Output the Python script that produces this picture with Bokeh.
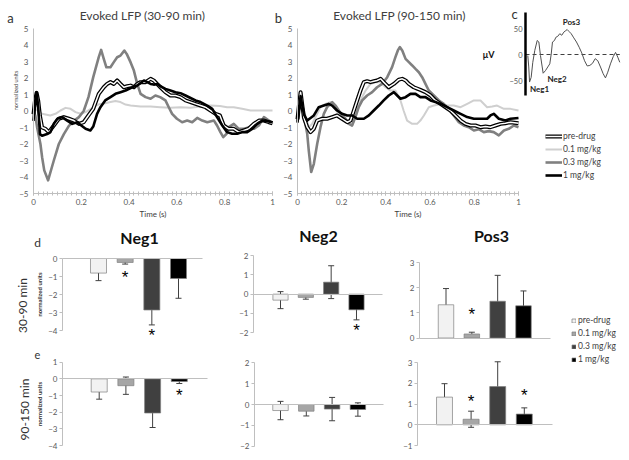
from bokeh.plotting import figure
from bokeh.layouts import row, column
from bokeh.models import (Range1d, FixedTicker, LinearAxis, Label, Legend, LegendItem,
                          ColumnDataSource, Whisker, TeeHead, NumeralTickFormatter)
from bokeh.embed import file_html
from bokeh.resources import INLINE
from bokeh.core.properties import value

FONT = "Lato"
TICK_C = "#595959"
AXIS_C = "#bfbfbf"
TXT_C = "#404040"

doses = ["pre-drug", "0.1 mg/kg", "0.3 mg/kg", "1 mg/kg"]

# ---------------- evoked LFP traces, (time s, normalized units) ----------------
a_pre = [(0, -0.2), (0.006, 0.6), (0.013, 1.1), (0.02, 0.6), (0.027, -0.3), (0.036, -1.0), (0.05, -1.08),
         (0.064, -1.28), (0.085, -0.88), (0.106, -0.47), (0.127, -0.37), (0.148, -0.47), (0.169, -0.58),
         (0.19, -0.78), (0.21, -0.68), (0.23, -0.27), (0.25, 0.13), (0.273, 1.04), (0.294, 1.44), (0.308, 1.64),
         (0.322, 1.75), (0.336, 1.64), (0.35, 1.85), (0.364, 1.64), (0.378, 1.44), (0.392, 1.5), (0.406, 1.54),
         (0.42, 1.44), (0.434, 1.64), (0.448, 1.75), (0.469, 1.75), (0.49, 1.95), (0.503, 1.85), (0.517, 1.64),
         (0.531, 1.44), (0.552, 1.14), (0.573, 0.94), (0.594, 0.94), (0.615, 0.84), (0.636, 0.64), (0.657, 0.54),
         (0.678, 0.43), (0.699, 0.33), (0.72, 0.23), (0.741, 0.03), (0.762, -0.17), (0.78, -0.27), (0.796, -0.88),
         (0.817, -1.08), (0.838, -1.08), (0.859, -1.28), (0.88, -1.18), (0.9, -1.08), (0.922, -0.78),
         (0.943, -0.58), (0.964, -0.58), (0.985, -0.68), (1.0, -0.74)]
a_01 = [(0, 0.2), (0.036, -0.17), (0.07, -0.27), (0.092, -0.17), (0.113, 0.03), (0.134, 0.19), (0.155, 0.13),
        (0.176, -0.07), (0.197, -0.17), (0.218, -0.07), (0.24, 0.13), (0.26, 0.33), (0.28, 0.43), (0.3, 0.47),
        (0.322, 0.54), (0.343, 0.6), (0.364, 0.54), (0.385, 0.39), (0.406, 0.33), (0.448, 0.27), (0.49, 0.27),
        (0.53, 0.23), (0.573, 0.2), (0.615, 0.23), (0.657, 0.2), (0.699, 0.27), (0.741, 0.33), (0.78, 0.3),
        (0.81, 0.23), (0.838, 0.23), (0.873, 0.13), (0.908, 0.03), (0.95, 0.03), (1.0, 0.03)]
a_03 = [(0, 0.0), (0.008, -0.3), (0.015, -0.98), (0.029, -2.0), (0.036, -2.8), (0.045, -3.6), (0.061, -4.2),
        (0.085, -3.0), (0.106, -2.0), (0.127, -1.4), (0.148, -0.9), (0.169, -0.6), (0.19, -0.37), (0.21, 0.0),
        (0.23, 0.84), (0.25, 2.05), (0.273, 3.26), (0.283, 3.7), (0.294, 3.16), (0.305, 2.65), (0.322, 2.65),
        (0.336, 2.96), (0.35, 3.26), (0.364, 3.36), (0.38, 3.66), (0.39, 3.46), (0.406, 2.96), (0.42, 2.45),
        (0.434, 1.64), (0.448, 1.04), (0.469, 0.84), (0.49, 0.74), (0.51, 0.94), (0.53, 0.84), (0.552, 0.64),
        (0.566, 0.23), (0.58, -0.17), (0.6, -0.47), (0.622, -0.68), (0.643, -0.58), (0.664, -0.68),
        (0.685, -0.42), (0.706, -0.58), (0.727, -0.68), (0.755, -0.58), (0.768, -0.88), (0.782, -1.28),
        (0.794, -1.58), (0.808, -1.38), (0.817, -0.98), (0.838, -0.78), (0.859, -1.08), (0.88, -1.08),
        (0.9, -1.0), (0.922, -1.08), (0.943, -0.88), (0.964, -0.37), (0.985, -0.58), (1.0, -0.78)]
a_1 = [(0, -0.6), (0.006, 0.5), (0.013, 1.14), (0.02, 0.2), (0.027, -1.4), (0.036, -1.5), (0.057, -1.4),
       (0.071, -1.28), (0.085, -0.78), (0.1, -0.47), (0.12, -0.37), (0.141, -0.58), (0.162, -0.78),
       (0.183, -0.68), (0.2, -0.88), (0.218, -1.08), (0.238, -1.18), (0.25, -0.94), (0.266, -0.17), (0.28, 0.23),
       (0.3, 0.64), (0.322, 0.84), (0.343, 1.04), (0.364, 1.14), (0.385, 1.24), (0.413, 1.44), (0.434, 1.54),
       (0.448, 1.7), (0.462, 1.85), (0.476, 1.75), (0.49, 1.64), (0.503, 1.6), (0.517, 1.64), (0.531, 1.5),
       (0.552, 1.34), (0.573, 1.24), (0.594, 1.14), (0.615, 1.08), (0.636, 0.94), (0.657, 0.79), (0.678, 0.64),
       (0.699, 0.54), (0.727, 0.33), (0.748, 0.13), (0.768, -0.37), (0.79, -0.88), (0.81, -1.28),
       (0.831, -1.38), (0.852, -1.38), (0.873, -1.28), (0.894, -1.28), (0.915, -1.08), (0.936, -0.78),
       (0.957, -0.58), (0.978, -0.62), (1.0, -0.68)]

b_pre = [(0, -0.5), (0.007, 0.4), (0.014, 1.14), (0.029, -0.4), (0.044, -0.98), (0.059, -1.28), (0.074, -1.08),
         (0.089, -0.58), (0.112, -0.47), (0.134, -0.47), (0.157, -0.37), (0.179, -0.27), (0.202, -0.47),
         (0.225, -0.68), (0.24, -0.58), (0.255, 0.03), (0.27, 0.64), (0.285, 1.24), (0.3, 1.75), (0.315, 1.81),
         (0.33, 1.75), (0.345, 1.8), (0.36, 1.85), (0.376, 1.95), (0.39, 1.75), (0.413, 1.44), (0.436, 1.64),
         (0.458, 1.9), (0.474, 1.95), (0.489, 1.85), (0.504, 1.64), (0.526, 1.44), (0.541, 1.36), (0.556, 1.28),
         (0.579, 1.14), (0.602, 0.94), (0.624, 0.64), (0.647, 0.43), (0.67, 0.23), (0.692, 0.03), (0.715, -0.27),
         (0.738, -0.58), (0.76, -0.78), (0.783, -0.88), (0.805, -0.88), (0.828, -0.98), (0.851, -0.94),
         (0.873, -0.98), (0.896, -0.88), (0.919, -0.78), (0.941, -0.74), (0.964, -0.68), (1.0, -0.74)]
b_01 = [(0, -0.3), (0.007, 0.3), (0.014, 0.8), (0.036, -0.27), (0.051, -0.98), (0.066, -0.78), (0.089, -0.17),
        (0.104, 0.23), (0.127, 0.43), (0.149, 0.54), (0.164, 0.23), (0.187, -0.17), (0.209, -0.37),
        (0.232, -0.68), (0.247, -0.88), (0.262, -0.37), (0.285, 0.64), (0.308, 1.24), (0.33, 1.64), (0.353, 1.75),
        (0.376, 1.75), (0.398, 1.44), (0.421, 1.24), (0.443, 1.24), (0.466, 0.64), (0.48, 0.03), (0.496, -0.58),
        (0.519, -0.78), (0.541, -0.78), (0.556, -0.58), (0.572, -0.27), (0.594, 0.23), (0.617, 0.33),
        (0.647, 0.43), (0.677, 0.33), (0.707, 0.33), (0.738, 0.23), (0.768, 0.43), (0.798, 0.64), (0.828, 0.64),
        (0.858, 0.23), (0.881, 0.27), (0.903, 0.33), (0.934, 0.13), (0.964, 0.13), (1.0, 0.03)]
b_03 = [(0, -0.6), (0.007, 0.2), (0.014, 0.6), (0.029, -0.3), (0.044, -1.38), (0.051, -2.4), (0.062, -3.7),
        (0.074, -3.2), (0.089, -2.0), (0.104, -0.98), (0.119, -0.17), (0.134, 0.23), (0.157, 0.54), (0.172, 0.33),
        (0.187, 0.03), (0.202, -0.27), (0.217, -0.47), (0.232, -0.78), (0.247, -0.88), (0.262, -0.37),
        (0.277, 0.23), (0.293, 0.64), (0.315, 0.94), (0.338, 1.14), (0.36, 1.44), (0.383, 1.64), (0.406, 2.05),
        (0.428, 2.66), (0.443, 3.26), (0.454, 3.67), (0.463, 3.87), (0.474, 3.67), (0.489, 3.16), (0.504, 2.96),
        (0.519, 2.76), (0.534, 2.55), (0.549, 2.35), (0.564, 2.05), (0.579, 1.64), (0.594, 1.24), (0.617, 0.94),
        (0.64, 0.64), (0.662, 0.43), (0.685, 0.13), (0.707, -0.27), (0.73, -0.68), (0.752, -0.88),
        (0.775, -0.98), (0.798, -1.18), (0.82, -1.1), (0.843, -1.28), (0.865, -1.22), (0.888, -1.28),
        (0.911, -1.48), (0.934, -1.18), (0.956, -1.08), (0.979, -0.88), (1.0, -0.98)]
b_1 = [(0, -0.7), (0.007, 0.2), (0.014, 0.9), (0.029, -0.2), (0.044, -0.58), (0.074, -0.27), (0.096, 0.23),
       (0.119, 0.33), (0.141, 0.43), (0.157, 0.33), (0.179, 0.03), (0.202, -0.17), (0.225, -0.27),
       (0.247, -0.27), (0.27, -0.47), (0.3, -0.47), (0.323, -0.27), (0.345, 0.03), (0.368, 0.33), (0.39, 0.64),
       (0.413, 0.94), (0.436, 1.14), (0.451, 0.94), (0.466, 0.74), (0.489, 0.84), (0.511, 1.04), (0.534, 1.04),
       (0.556, 0.84), (0.579, 0.84), (0.602, 0.64), (0.624, 0.54), (0.647, 0.43), (0.677, 0.23), (0.707, 0.03),
       (0.738, -0.17), (0.768, -0.37), (0.798, -0.47), (0.828, -0.47), (0.858, -0.47), (0.873, -0.27),
       (0.888, -0.17), (0.911, -0.47), (0.941, -0.58), (0.964, -0.47), (1.0, -0.42)]

# ---------------- example trace (panel c), (time, microvolts) ----------------
c_trace = [(0.024, -2), (0.034, -24), (0.042, -53), (0.059, -44), (0.076, -15), (0.097, 8), (0.122, 27),
           (0.139, 24), (0.156, -2), (0.174, -24), (0.184, -36), (0.208, -31), (0.232, -24), (0.253, -18),
           (0.268, 1), (0.281, 24), (0.302, 27), (0.316, 33), (0.336, 35), (0.357, 40), (0.378, 37), (0.399, 43),
           (0.42, 46), (0.434, 48), (0.455, 44), (0.476, 40), (0.503, 32), (0.531, 24), (0.559, 14), (0.586, 3),
           (0.615, -12), (0.643, -22), (0.67, -21), (0.698, -17), (0.726, -8), (0.753, -12), (0.781, -24),
           (0.809, -37), (0.833, -45), (0.857, -34), (0.885, -18), (0.914, -4), (0.938, 4), (0.961, -5),
           (0.982, -15)]
c_peak_names = ["Neg1", "Neg2", "Pos3"]
c_peak_t = [0.147, 0.328, 0.479]
c_peak_uv = [-66, -47, 62]
c_ticks = [-50, 0, 50]

# ---------------- bar charts: mean, error, star position ----------------
neg1_d_mean = [-0.81, -0.22, -2.86, -1.11]
neg1_d_err = [0.42, 0.09, 0.83, 1.1]
neg1_d_star = [None, -0.94, -4.17, None]
neg2_d_mean = [-0.31, -0.17, 0.62, -0.81]
neg2_d_err = [0.44, 0.09, 0.85, 0.52]
neg2_d_star = [None, None, None, -1.8]
pos3_d_mean = [1.32, 0.16, 1.46, 1.28]
pos3_d_err = [0.645, 0.07, 1.03, 0.59]
pos3_d_star = [None, 1.02, None, None]
neg1_e_mean = [-0.79, -0.41, -2.05, -0.16]
neg1_e_err = [0.43, 0.52, 0.87, 0.12]
neg1_e_star = [None, None, None, -0.9]
neg2_e_mean = [-0.29, -0.32, -0.22, -0.24]
neg2_e_err = [0.44, 0.23, 0.56, 0.32]
neg2_e_star = [None, None, None, None]
pos3_e_mean = [1.34, 0.27, 1.85, 0.52]
pos3_e_err = [0.65, 0.39, 1.2, 0.3]
pos3_e_star = [None, 1.22, None, 1.5]

TIME_MAJOR = [0, 0.2, 0.4, 0.6, 0.8, 1.0]
TIME_MINOR = [i / 50 for i in range(51)]
LFP_TICKS = [-5, -4, -3, -2, -1, 0, 1, 2, 3, 4, 5]
BAR_COLORS = ["#f2f2f2", "#a6a6a6", "#404040", "#000000"]

GEO = {}


# ---------------- helpers (page-pixel layout) ----------------
def lin(anchor, off, size):
    pa, va, pb, vb = anchor
    pa -= off
    pb -= off
    s = (vb - va) / (pb - pa)
    v0 = va - pa * s
    v1 = va + (size - pa) * s
    return Range1d(min(v0, v1), max(v0, v1))


def canvas(ox, oy, w, h, xa, ya):
    p = figure(width=w, height=h, x_range=lin(xa, ox, w), y_range=lin(ya, oy, h),
               output_backend="svg", toolbar_location=None, title=None, min_border=0,
               x_axis_location=None, y_axis_location=None)
    p.outline_line_color = None
    for g in p.grid:
        g.visible = False
    GEO[p.id] = (ox, oy, w, h)
    return p


def style(ax, size="8px"):
    ax.major_label_text_font = FONT
    ax.major_label_text_font_size = size
    ax.major_label_text_color = TICK_C
    ax.axis_line_color = AXIS_C
    ax.major_tick_line_color = AXIS_C
    ax.minor_tick_line_color = AXIS_C
    ax.axis_label_text_font = FONT
    ax.axis_label_text_font_style = "normal"
    ax.axis_label_text_color = TXT_C


def note(p, x, y, text, size, color=TXT_C, fstyle="normal", angle=0):
    ox, oy, w, h = GEO[p.id]
    p.add_layout(Label(x=x - ox, y=oy + h - y, x_units="screen", y_units="screen", text=text,
                       text_font=FONT, text_font_size=size, text_color=color,
                       text_font_style=fstyle, text_align="center", text_baseline="middle",
                       angle=angle, angle_units="deg"))


def lfp_axes(p):
    xa = LinearAxis(fixed_location=LFP_TICKS[0], bounds=(TIME_MAJOR[0], TIME_MAJOR[-1]),
                    ticker=FixedTicker(ticks=TIME_MAJOR, minor_ticks=TIME_MINOR))
    style(xa)
    xa.formatter = NumeralTickFormatter(format="0.[0]")
    xa.major_tick_in = 2
    xa.major_tick_out = 2
    xa.minor_tick_in = 2
    xa.minor_tick_out = 2
    xa.major_label_standoff = 3
    p.add_layout(xa, "below")
    ya = LinearAxis(fixed_location=TIME_MAJOR[0], bounds=(LFP_TICKS[0], LFP_TICKS[-1]),
                    ticker=FixedTicker(ticks=LFP_TICKS))
    style(ya)
    ya.major_tick_in = 0
    ya.major_tick_out = 0
    ya.major_label_standoff = 5
    p.add_layout(ya, "left")


def xy(pairs):
    return [q[0] for q in pairs], [q[1] for q in pairs]


def traces(p, pre, d01, d03, d1):
    r01 = p.line(*xy(d01), line_color="#cfcfcf", line_width=2, line_join="round")
    r03 = p.line(*xy(d03), line_color="#808080", line_width=2.6, line_join="round")
    rpo = p.line(*xy(pre), line_color="#000000", line_width=4, line_join="round")
    rpi = p.line(*xy(pre), line_color="#ffffff", line_width=1.5, line_join="round")
    r1 = p.line(*xy(d1), line_color="#000000", line_width=2.6, line_join="round")
    return [rpo, rpi], r01, r03, r1


def bars(p, g, means, errs, stars, yticks, ylabel=False, xn="default", yn="default"):
    c0, sp, axl, axr = g
    xs = list(range(len(doses)))
    src = ColumnDataSource(dict(x=xs, top=means, color=BAR_COLORS,
                                upper=[m + e for m, e in zip(means, errs)],
                                lower=[m - e for m, e in zip(means, errs)]))
    r = p.vbar(x="x", top="top", bottom=0, width=0.6, fill_color="color", line_color="#7f7f7f",
               line_width=0.7, source=src, x_range_name=xn, y_range_name=yn)
    p.add_layout(Whisker(source=src, base="x", upper="upper", lower="lower",
                         x_range_name=xn, y_range_name=yn, line_color="#404040", line_width=1,
                         upper_head=TeeHead(size=6, line_color="#404040", line_width=1),
                         lower_head=TeeHead(size=6, line_color="#404040", line_width=1)))
    sx = [i for i, s in enumerate(stars) if s is not None]
    sy = [s for s in stars if s is not None]
    if sx:
        p.text(x=sx, y=sy, text=["*"] * len(sx), x_range_name=xn, y_range_name=yn,
               text_font=value("Liberation Sans"), text_font_size="17px", text_align="center",
               text_baseline="middle", y_offset=2, text_color="#000000")
    xl = (axl - c0) / sp
    xr = (axr - c0) / sp
    xax = LinearAxis(x_range_name=xn, y_range_name=yn, fixed_location=0, bounds=(xl, xr),
                     ticker=FixedTicker(ticks=[]))
    xax.axis_line_color = AXIS_C
    xax.major_label_text_font_size = "0px"
    p.add_layout(xax, "below")
    yax = LinearAxis(x_range_name=xn, y_range_name=yn, fixed_location=xl,
                     bounds=(yticks[0], yticks[-1]), ticker=FixedTicker(ticks=yticks))
    style(yax)
    yax.major_tick_in = 0
    yax.major_tick_out = 3
    yax.major_label_standoff = 2
    if ylabel:
        yax.axis_label = "normalized units"
        yax.axis_label_text_font_size = "6px"
        yax.axis_label_text_font_style = "bold"
        yax.axis_label_text_color = "#333333"
        yax.axis_label_standoff = 2
    p.add_layout(yax, "left")
    return r


# ---------------- panel a ----------------
fa = canvas(0, 0, 283, 224, (33, 0, 272, 1), (28, 5, 193, -5))
lfp_axes(fa)
traces(fa, a_pre, a_01, a_03, a_1)
note(fa, 10, 17, "a", "13px", "#333333")
note(fa, 142, 15, "Evoked LFP (30-90 min)", "12px")
note(fa, 15, 90, "normalized units", "5.5px", angle=90)
note(fa, 152.5, 213, "Time (s)", "8px")
note(fa, 278, 17, "b", "13px", "#333333")

# ---------------- panel b + inset c + line legend ----------------
fb = canvas(283, 0, 346, 224, (297, 0, 518, 1), (28, 5, 193, -5))
fb.extra_x_ranges = {"c": lin((525, 0, 621, 1), 283, 346)}
fb.extra_y_ranges = {"c": lin((54, 0, 28, 50), 0, 224)}
lfp_axes(fb)
pre_r, r01, r03, r1 = traces(fb, b_pre, b_01, b_03, b_1)

ct, cv = xy(c_trace)
fb.line([0, ct[-1]], [0, 0], x_range_name="c", y_range_name="c", line_color="#404040",
        line_width=1, line_dash="4 3")
fb.line(ct, cv, x_range_name="c", y_range_name="c", line_color="#505050", line_width=1)
fb.text(x=c_peak_t, y=c_peak_uv, text=c_peak_names, x_range_name="c", y_range_name="c",
        text_font=value(FONT), text_font_size="8px", text_font_style="bold",
        text_align="center", text_baseline="middle", text_color="#222222")
cax = LinearAxis(x_range_name="c", y_range_name="c", fixed_location=0, bounds=(-79, 81),
                 ticker=FixedTicker(ticks=c_ticks))
style(cax, "7.5px")
cax.axis_line_color = "black"
cax.axis_line_width = 2.5
cax.major_tick_in = 0
cax.major_tick_out = 0
cax.major_label_standoff = 3
cax.axis_label = "\u03bcV"
cax.axis_label_orientation = "horizontal"
cax.axis_label_text_font_size = "9px"
cax.axis_label_text_font_style = "bold"
cax.axis_label_text_color = "#111111"
cax.axis_label_standoff = 12
fb.add_layout(cax, "left")

fb.add_layout(Legend(items=[LegendItem(label=doses[0], renderers=pre_r),
                            LegendItem(label=doses[1], renderers=[r01]),
                            LegendItem(label=doses[2], renderers=[r03]),
                            LegendItem(label=doses[3], renderers=[r1])],
                     location=(545 - 283, 224 - 180), glyph_width=17, glyph_height=10,
                     label_height=10, spacing=3, padding=0, margin=0, label_standoff=1,
                     label_text_font=FONT, label_text_font_size="8.5px", label_text_color=TXT_C,
                     border_line_color=None, background_fill_alpha=0))
note(fb, 399, 15, "Evoked LFP (90-150 min)", "12px")
note(fb, 514, 13, "c", "13px", "#333333")
note(fb, 407.5, 213, "Time (s)", "8px")

# ---------------- Neg1 / Neg2 bar panels ----------------
g_n1d = (98, 26.67, 62, 202)
n1d = canvas(0, 224, 232, 121, (98, 0, 124.67, 1), (258, 0, 330, -4))
bars(n1d, g_n1d, neg1_d_mean, neg1_d_err, neg1_d_star, [-4, -3, -2, -1, 0], ylabel=True)
note(n1d, 37, 242, "d", "12px", "#333333")
note(n1d, 22, 305, "30-90 min", "12px", "#333333", angle=90)
note(n1d, 139, 237, "Neg1", "16px", "#111111", fstyle="bold")

g_n2d = (280, 25.33, 253, 382)
n2d = canvas(232, 224, 168, 121, (280, 0, 305.33, 1), (255, 2, 332.3, -2))
bars(n2d, g_n2d, neg2_d_mean, neg2_d_err, neg2_d_star, [-2, -1, 0, 1, 2])
note(n2d, 318, 235, "Neg2", "16px", "#111111", fstyle="bold")

g_n1e = (98.7, 26.7, 62, 207)
n1e = canvas(0, 345, 232, 115, (98.7, 0, 125.4, 1), (361.7, 1, 445, -4))
bars(n1e, g_n1e, neg1_e_mean, neg1_e_err, neg1_e_star, [-4, -3, -2, -1, 0, 1], ylabel=True)
note(n1e, 37, 354, "e", "11px", "#333333")
note(n1e, 24, 409, "90-150 min", "12px", "#333333", angle=90)

g_n2e = (280, 25.8, 254, 383)
n2e = canvas(232, 345, 168, 115, (280, 0, 305.8, 1), (362.3, 2, 445.7, -2))
bars(n2e, g_n2e, neg2_e_mean, neg2_e_err, neg2_e_star, [-2, -1, 0, 1, 2])

# ---------------- Pos3 (both rows) + bar legend ----------------
g_p3d = (445.5, 25.83, 419, 550)
g_p3e = (444, 26.6, 417, 552)
p3 = canvas(400, 224, 229, 236, (445.5, 0, 471.33, 1), (262, 3, 337.5, 0))
p3.extra_x_ranges = {"xe": lin((444, 0, 470.6, 1), 400, 229)}
p3.extra_y_ranges = {"ye": lin((362.3, 3, 445, -1), 224, 236)}
rd = bars(p3, g_p3d, pos3_d_mean, pos3_d_err, pos3_d_star, [0, 1, 2, 3])
bars(p3, g_p3e, pos3_e_mean, pos3_e_err, pos3_e_star, [-1, 0, 1, 2, 3], xn="xe", yn="ye")
note(p3, 491, 235, "Pos3", "16px", "#111111", fstyle="bold")
p3.add_layout(Legend(items=[LegendItem(label=d, renderers=[rd], index=i) for i, d in enumerate(doses)],
                     location=(571 - 400, 460 - 364), glyph_width=5, glyph_height=5, label_height=10,
                     spacing=3, padding=0, margin=0, label_standoff=2, label_text_font=FONT,
                     label_text_font_size="8.5px", label_text_color=TXT_C,
                     border_line_color=None, background_fill_alpha=0))

layout = column(row(fa, fb),
                row(column(row(n1d, n2d), row(n1e, n2e)), p3))

open("out.html", "w").write(file_html(layout, INLINE))
